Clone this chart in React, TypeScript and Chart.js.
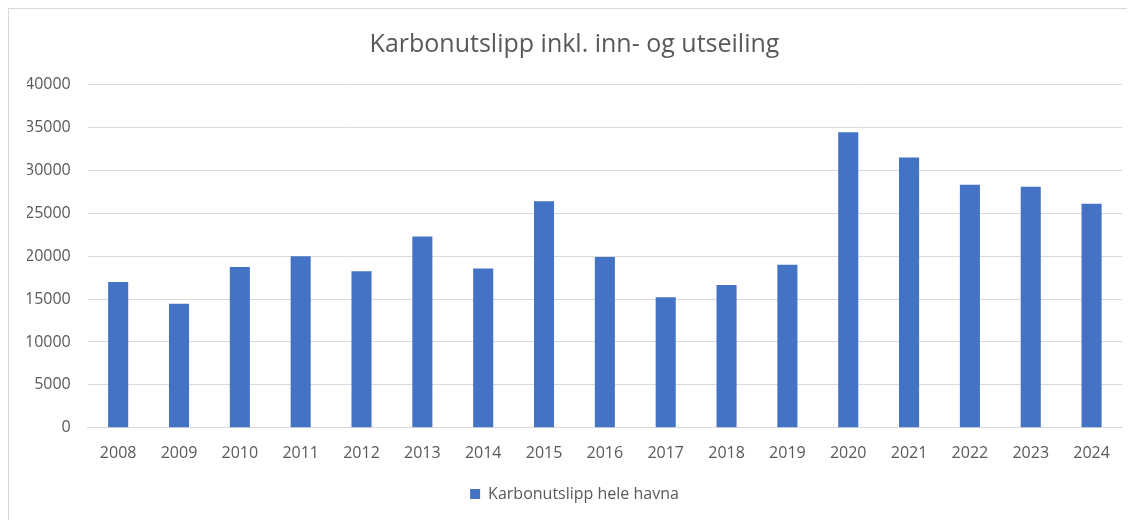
import React, { useEffect, useRef } from "react";
import { Chart, registerables } from "chart.js";

Chart.register(...registerables);

const years = ["2008", "2009", "2010", "2011", "2012", "2013", "2014", "2015", "2016", "2017", "2018", "2019", "2020", "2021", "2022", "2023", "2024"];
const emissions = [17000, 14450, 18750, 20000, 18250, 22300, 18550, 26400, 19900, 15200, 16650, 19000, 34450, 31480, 28330, 28090, 26120];
const seriesLabel = "Karbonutslipp hele havna";
const titleText = "Karbonutslipp inkl. inn- og utseiling";

const FONT = "'Open Sans', 'DejaVu Sans', sans-serif";
const TEXT = "#595959";

export default function App() {
  const ref = useRef<HTMLCanvasElement | null>(null);
  useEffect(() => {
    if (!ref.current) return;
    const chart = new Chart(ref.current, {
      type: "bar",
      data: {
        labels: years,
        datasets: [
          {
            label: seriesLabel,
            data: emissions,
            backgroundColor: "#4472C4",
            borderWidth: 0,
            categoryPercentage: 1,
            barPercentage: 0.33,
          },
        ],
      },
      options: {
        animation: false,
        responsive: false,
        layout: { padding: { left: 18, right: 13, top: 0, bottom: 8 } },
        plugins: {
          title: {
            display: true,
            text: titleText,
            color: TEXT,
            font: { family: FONT, size: 25, weight: "normal" },
            padding: { top: 20.5, bottom: 25 },
          },
          legend: {
            display: true,
            position: "bottom",
            labels: {
              color: TEXT,
              font: { family: FONT, size: 16 },
              boxWidth: 10,
              boxHeight: 10,
              padding: 7,
            },
          },
          tooltip: { enabled: false },
        },
        scales: {
          x: {
            grid: { display: false, drawTicks: false },
            border: { display: true, color: "#d9d9d9" },
            ticks: { color: TEXT, font: { family: FONT, size: 16 }, padding: 16, maxRotation: 0 },
          },
          y: {
            min: 0,
            max: 40000,
            grid: { color: "#d9d9d9", drawTicks: false },
            border: { display: false },
            afterFit: (axis: any) => {
              axis.width -= 19;
            },
            ticks: {
              stepSize: 5000,
              color: TEXT,
              font: { family: FONT, size: 16 },
              padding: 17,
              callback: (v: any) => String(v),
            },
          },
        },
      },
    });
    return () => chart.destroy();
  }, []);
  return (
    <div
      style={{
        width: 1127,
        height: 512,
        boxSizing: "border-box",
        borderLeft: "1px solid #d9d9d9",
        borderTop: "1px solid #d9d9d9",
        background: "#fff",
      }}
    >
      <canvas ref={ref} width={1126} height={511} style={{ display: "block" }} />
    </div>
  );
}
